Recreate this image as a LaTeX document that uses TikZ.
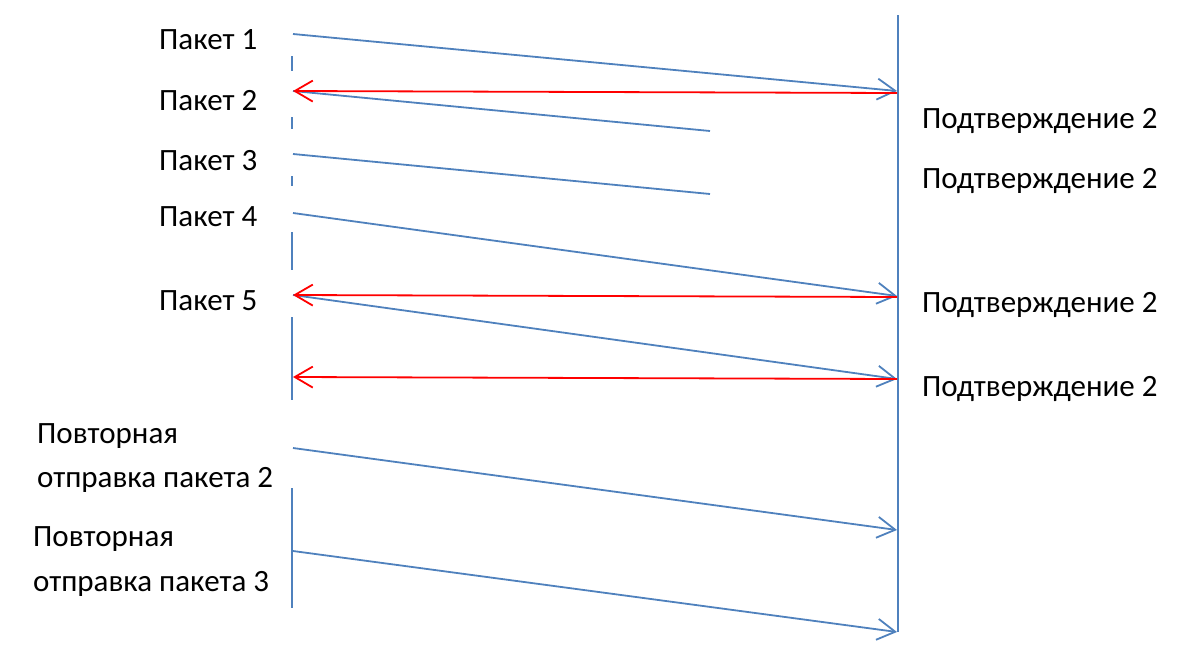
\documentclass[tikz,border=0pt]{standalone}
\usepackage{fontspec}
\setmainfont{Carlito}
\usetikzlibrary{arrows.meta}
\definecolor{lineblue}{RGB}{79,129,189}

\begin{document}
\begin{tikzpicture}
    [
      x=1pt, y=-1pt,
      every node/.style = {font=\fontsize{31}{37}\selectfont, inner sep=0pt, anchor=base west},
      pkt/.style = {draw=lineblue, line width=1.8pt},
      pktarrow/.style = {pkt, -{Straight Barb[length=18pt, width=21pt]}},
      ack/.style = {draw=red, line width=1.8pt, -{Straight Barb[length=18pt, width=21pt]}}
    ]
    \useasboundingbox (0,0) rectangle (1195,651);

    % labels
    \node (pk1) at (159,49) {Пакет 1};
    \node (pk2) at (159,110) {Пакет 2};
    \node (pk3) at (159,170) {Пакет 3};
    \node (pk4) at (159,226) {Пакет 4};
    \node (pk5) at (159,310) {Пакет 5};
    \node (ack1) at (922,128) {Подтверждение 2};
    \node (ack2) at (922,188) {Подтверждение 2};
    \node (ack3) at (922,312) {Подтверждение 2};
    \node (ack4) at (922,396) {Подтверждение 2};
    \node (re2a) at (37,443) {Повторная};
    \node (re2b) at (37,487) {отправка пакета 2};
    \node (re3a) at (33,546) {Повторная};
    \node (re3b) at (33,591) {отправка пакета 3};

    % lifelines
    \foreach \a/\b in {56/71, 117/129, 176/186, 232/270, 317/400, 488/608}
      \draw[pkt] (292,\a) -- (292,\b);
    \draw[pkt] (898,15) -- (898,632);

    % end points
    \coordinate (l1) at (293,34);   \coordinate (r1) at (897,91);
    \coordinate (l2) at (293,91);   \coordinate (r2) at (710,131);
    \coordinate (l3) at (293,154);  \coordinate (r3) at (710,194);
    \coordinate (l4) at (293,213);  \coordinate (r4) at (897,296);
    \coordinate (l5) at (293,295);  \coordinate (r5) at (897,379);
    \coordinate (l6) at (293,448);  \coordinate (r6) at (897,530);
    \coordinate (l7) at (293,551);  \coordinate (r7) at (897,632);
    \coordinate (a1) at (897,93);
    \coordinate (a2) at (897,297);
    \coordinate (a3) at (897,379);
    \coordinate (b3) at (293,377);

    % packets
    \draw[pktarrow] (l1) -- (r1);
    \draw[pkt] (l2) -- (r2);
    \draw[pkt] (l3) -- (r3);
    \draw[pktarrow] (l4) -- (r4);
    \draw[pktarrow] (l5) -- (r5);
    \draw[pktarrow] (l6) -- (r6);
    \draw[pktarrow] (l7) -- (r7);

    % acknowledgements
    \draw[ack] (a1) -- (l2);
    \draw[ack] (a2) -- (l5);
    \draw[ack] (a3) -- (b3);
\end{tikzpicture}
\end{document}
